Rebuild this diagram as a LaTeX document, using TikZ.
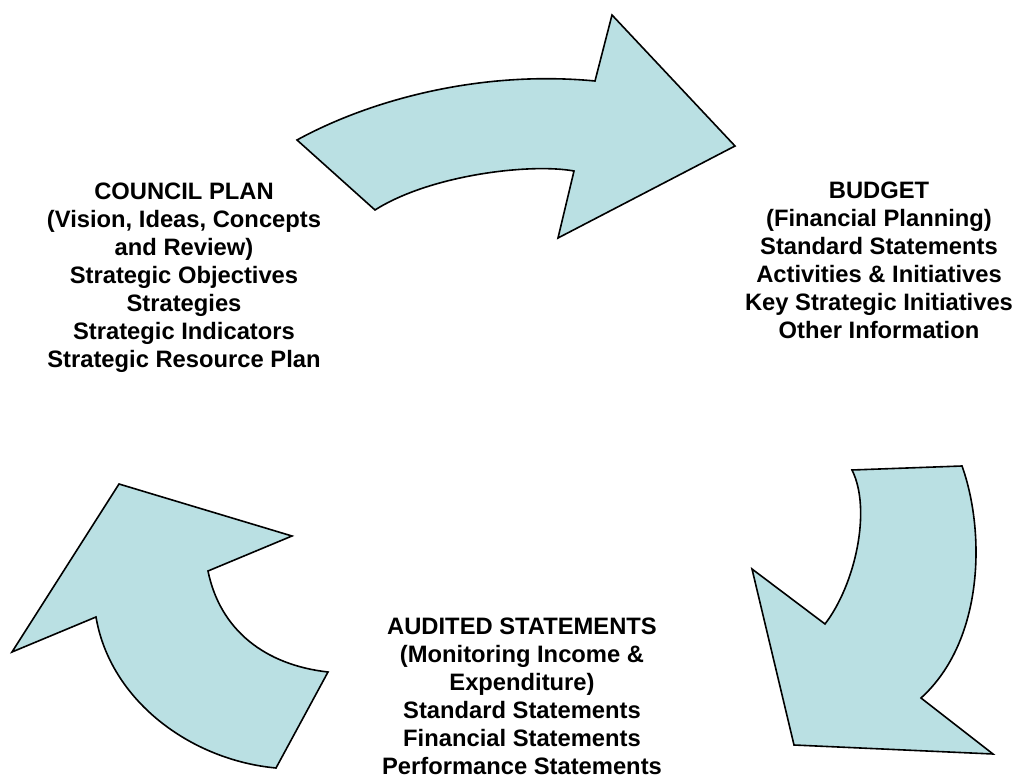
\documentclass[tikz,border=0pt]{standalone}
\usepackage{fontspec}
\setmainfont{Liberation Sans}
\begin{document}
\begin{tikzpicture}[x=1pt,y=-1pt,
  cyclearrow/.style={draw=black,line width=1.6pt,line join=miter,fill=arrowfill},
  stagetext/.style={align=center,font=\bfseries\fontsize{23.75}{28}\selectfont,inner sep=0pt}]
\definecolor{arrowfill}{RGB}{186,224,227}
\useasboundingbox (0,0) rectangle (1018,783);

% upper arrow: plan -> budget
\draw[cyclearrow] (297,140) .. controls (370,100) and (480,70) .. (595,81)
  -- (612,15) -- (735,146) -- (558,238) -- (574,171)
  .. controls (530,163) and (430,175) .. (375,210) -- cycle;

% right arrow: budget -> audited statements
\draw[cyclearrow] (852,470) -- (962,466)
  .. controls (985,530) and (985,640) .. (921,698)
  -- (993,754) -- (794,745) -- (752,569) -- (825,624)
  .. controls (855,585) and (872,510) .. (852,470) -- cycle;

% left arrow: audited statements -> plan
\draw[cyclearrow] (119,484) -- (292,536) -- (208,571)
  .. controls (220,630) and (265,665) .. (328,672)
  -- (276,768)
  .. controls (190,760) and (110,700) .. (96,617)
  -- (12,652) -- cycle;

\node[stagetext] (council) at (184,278) {COUNCIL PLAN\\(Vision, Ideas, Concepts\\and Review)\\Strategic Objectives\\Strategies\\Strategic Indicators\\Strategic Resource Plan};
\node[stagetext] (budget) at (879,260) {BUDGET\\(Financial Planning)\\Standard Statements\\Activities \& Initiatives\\Key Strategic Initiatives\\Other Information};
\node[stagetext] (audited) at (522,700) {AUDITED STATEMENTS\\(Monitoring Income \&\\Expenditure)\\Standard Statements\\Financial Statements\\Performance Statements\strut};
\end{tikzpicture}
\end{document}
